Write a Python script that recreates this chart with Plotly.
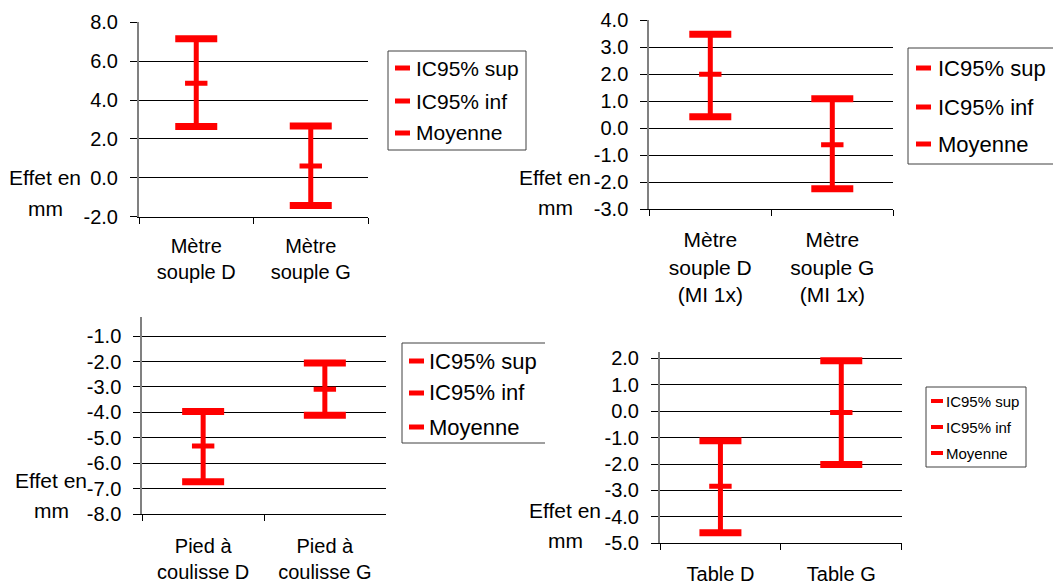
import plotly.graph_objects as go

W, H = 1053, 585
RED = "#ff0000"
FONT = "Liberation Sans, Arial, sans-serif"

# ---------------- data ----------------
cats1 = ["Mètre<br>souple D", "Mètre<br>souple G"]
sup1 = [7.15, 2.67]
inf1 = [2.64, -1.43]
moy1 = [4.87, 0.61]
ticks1 = [-2.0, 0.0, 2.0, 4.0, 6.0, 8.0]
ticklabels1 = ["-2.0", "0.0", "2.0", "4.0", "6.0", "8.0"]

cats2 = ["Mètre<br>souple D<br>(MI 1x)", "Mètre<br>souple G<br>(MI 1x)"]
sup2 = [3.48, 1.09]
inf2 = [0.42, -2.25]
moy2 = [2.0, -0.62]
ticks2 = [-3.0, -2.0, -1.0, 0.0, 1.0, 2.0, 3.0, 4.0]
ticklabels2 = ["-3.0", "-2.0", "-1.0", "0.0", "1.0", "2.0", "3.0", "4.0"]

cats3 = ["Pied à<br>coulisse D", "Pied à<br>coulisse G"]
sup3 = [-3.96, -2.06]
inf3 = [-6.72, -4.11]
moy3 = [-5.32, -3.09]
ticks3 = [-8.0, -7.0, -6.0, -5.0, -4.0, -3.0, -2.0, -1.0]
ticklabels3 = ["-8.0", "-7.0", "-6.0", "-5.0", "-4.0", "-3.0", "-2.0", "-1.0"]

cats4 = ["Table D", "Table G"]
sup4 = [-1.12, 1.91]
inf4 = [-4.6, -2.02]
moy4 = [-2.84, -0.05]
ticks4 = [-5.0, -4.0, -3.0, -2.0, -1.0, 0.0, 1.0, 2.0]
ticklabels4 = ["-5.0", "-4.0", "-3.0", "-2.0", "-1.0", "0.0", "1.0", "2.0"]

series_names = ["IC95% sup", "IC95% inf", "Moyenne"]
ytitle_lines = ["Effet en", "mm"]

# ---------------- layout geometry (pixels) ----------------
panels = [
    dict(cats=cats1, sup=sup1, inf=inf1, moy=moy1, tv=ticks1, tt=ticklabels1,
         x0=139, x1=368, yt=22.3, yb=216.7, rng=[-2, 8], cfs=20, cso=11,
         box=(388, 526, 51, 150, True), dash=(395, 410), tx=414, items=(68, 101, 133),
         lfs=21, dw=5, tcx=45, ty1=177, ty2=208),
    dict(cats=cats2, sup=sup2, inf=inf2, moy=moy2, tv=ticks2, tt=ticklabels2,
         x0=649.3, x1=893.3, yt=20.3, yb=209, rng=[-3, 4], cfs=21, cso=12,
         box=(908, 1060, 48, 164, False), dash=(916, 931), tx=936, items=(68, 107, 144),
         lfs=22, dw=5, tcx=555, ty1=177, ty2=207),
    dict(cats=cats3, sup=sup3, inf=inf3, moy=moy3, tv=ticks3, tt=ticklabels3,
         x0=142.3, x1=385.7, yt=316.7, yb=514.3, rng=[-8, -0.24], cfs=20, cso=14,
         box=(402, 545, 343, 443, False), dash=(409, 424), tx=427, items=(361, 393, 427),
         lfs=22, dw=5, tcx=51, ty1=480, ty2=510),
    dict(cats=cats4, sup=sup4, inf=inf4, moy=moy4, tv=ticks4, tt=ticklabels4,
         x0=660, x1=901.7, yt=351.7, yb=543.3, rng=[-5, 2.25], cfs=20, cso=13,
         box=(926, 1026, 387, 467, True), dash=(931, 943), tx=943.5, items=(401, 427, 453),
         lfs=15, dw=4, tcx=565, ty1=510, ty2=540),
]


def px(x):
    return x / W


def py(y):
    return 1 - y / H


fig = go.Figure()
annotations = []
shapes = []

for i, p in enumerate(panels, start=1):
    sfx = "" if i == 1 else str(i)
    xa, ya = "x" + sfx, "y" + sfx
    # high-low line
    lx, ly = [], []
    for c, lo, hi in zip(p["cats"], p["inf"], p["sup"]):
        lx += [c, c, None]
        ly += [lo, hi, None]
    fig.add_trace(go.Scatter(x=lx, y=ly, mode="lines", line=dict(color=RED, width=5),
                             showlegend=False, hoverinfo="skip", xaxis=xa, yaxis=ya))
    for name, vals, size, lw in [(series_names[0], p["sup"], 30, 7),
                                 (series_names[1], p["inf"], 30, 7),
                                 (series_names[2], p["moy"], 16, 5)]:
        fig.add_trace(go.Scatter(
            x=p["cats"], y=vals, mode="markers", name=name, showlegend=False,
            marker=dict(symbol="line-ew", size=size, color=RED,
                        line=dict(color=RED, width=lw)),
            xaxis=xa, yaxis=ya))

    fig.update_layout({
        "xaxis" + sfx: dict(
            domain=[px(p["x0"]), px(p["x1"])], anchor=ya, type="category",
            range=[-0.5, 1.5],
            showline=True, linecolor="black", linewidth=1,
            ticks="outside", tickson="boundaries", ticklen=6, tickcolor="black",
            showgrid=False, zeroline=False, fixedrange=True,
            tickfont=dict(family=FONT, size=p["cfs"], color="black"),
            ticklabelstandoff=p["cso"]),
        "yaxis" + sfx: dict(
            domain=[py(p["yb"]), py(p["yt"])], anchor=xa, range=p["rng"],
            tickvals=p["tv"], ticktext=p["tt"],
            showline=True, linecolor="#808080", linewidth=2,
            ticks="outside", ticklen=7, tickcolor="black", tickwidth=1,
            showgrid=True, gridcolor="black", gridwidth=1, zeroline=False,
            tickfont=dict(family=FONT, size=20, color="black"), ticklabelstandoff=8,
            fixedrange=True),
    })
    # axis title (two lines)
    for txt, yy in zip(ytitle_lines, (p["ty1"], p["ty2"])):
        annotations.append(dict(text=txt, x=px(p["tcx"]), y=py(yy),
                                xref="paper", yref="paper", showarrow=False,
                                xanchor="center", yanchor="middle",
                                font=dict(family=FONT, size=21, color="black")))
    # legend box
    bx0, bx1, by0, by1, closed = p["box"]
    if closed:
        path = f"M{px(bx0)},{py(by0)} L{px(bx1)},{py(by0)} L{px(bx1)},{py(by1)} L{px(bx0)},{py(by1)} Z"
    else:
        path = f"M{px(bx1)},{py(by0)} L{px(bx0)},{py(by0)} L{px(bx0)},{py(by1)} L{px(bx1)},{py(by1)}"
    shapes.append(dict(type="path", path=path, xref="paper", yref="paper",
                       line=dict(color="#404040", width=1)))
    for name, yy in zip(series_names, p["items"]):
        shapes.append(dict(type="line", xref="paper", yref="paper",
                           x0=px(p["dash"][0]), x1=px(p["dash"][1]), y0=py(yy), y1=py(yy),
                           line=dict(color=RED, width=p["dw"])))
        annotations.append(dict(text=name, x=px(p["tx"]), y=py(yy),
                                xref="paper", yref="paper", showarrow=False,
                                xanchor="left", yanchor="middle",
                                font=dict(family=FONT, size=p["lfs"], color="black")))

fig.update_layout(
    width=W, height=H, margin=dict(l=0, r=0, t=0, b=0, autoexpand=False),
    paper_bgcolor="white", plot_bgcolor="white", showlegend=False,
    font=dict(family=FONT, color="black"),
    annotations=annotations, shapes=shapes,
)

fig.write_html("out.html", config={"displayModeBar": False})
